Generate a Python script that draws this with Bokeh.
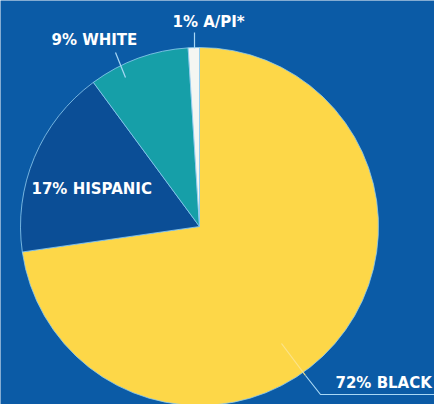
import math
from bokeh.plotting import figure
from bokeh.models import Range1d, ColumnDataSource
from bokeh.core.properties import value
from bokeh.embed import file_html
from bokeh.resources import INLINE

# Shares, listed clockwise from 12 o'clock
groups = ["BLACK", "HISPANIC", "WHITE", "A/PI*"]
shares = [72, 17, 9, 1]
colors = ["#fdd748", "#0b4e96", "#169fa8", "#f4f6f2"]

W, H = 434, 404
BG = "#0b5ba6"
cx, cy, r = 199, H - 226, 179

total = float(sum(shares))
starts, ends = [], []
acc = 0.0
for s in shares:
    a0 = math.pi / 2 - 2 * math.pi * acc / total
    acc += s
    a1 = math.pi / 2 - 2 * math.pi * acc / total
    starts.append(a1)
    ends.append(a0)

src = ColumnDataSource(dict(group=groups, share=shares, color=colors,
                            start=starts, end=ends,
                            x=[cx] * 4, y=[cy] * 4))

p = figure(width=W, height=H, output_backend="svg", toolbar_location=None,
           x_range=Range1d(0, W), y_range=Range1d(0, H),
           min_border=0, background_fill_color=BG, border_fill_color=BG)
p.axis.visible = False
p.grid.visible = False
p.outline_line_color = None

p.wedge(x="x", y="y", radius=r, start_angle="start", end_angle="end",
        fill_color="color", line_color="#8fcbef", line_width=0.8, source=src)

# leader lines
line_col = "#a9d8f5"
p.line([194, 194], [H - 32, H - 48], line_color=line_col, line_width=1.2)
p.line([115, 125], [H - 52, H - 77], line_color=line_col, line_width=1.2)
p.line([281, 305], [H - 343, H - 375], line_color="#fbe38a", line_width=1.2)
p.line([305, 320, 434], [H - 375, H - 394, H - 394], line_color=line_col, line_width=1.2)

labels = [f"{s}% {g}" for s, g in zip(shares, groups)]
lx = [335, 31, 51, 172]
ly = [H - 382, H - 188, H - 39, H - 21]
p.text(x=lx, y=ly, text=labels, text_color="white",
       text_font=value("DejaVu Sans"), text_font_style="bold",
       text_font_size="15px", text_align="left", text_baseline="middle")

open("out.html", "w").write(file_html(p, INLINE))
